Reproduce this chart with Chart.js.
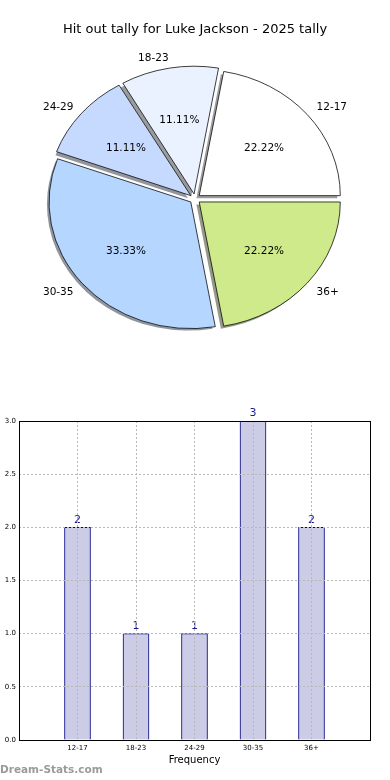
<!DOCTYPE html>
<html>
<head>
<meta charset="utf-8">
<script src="https://cdn.jsdelivr.net/npm/chart.js@4"></script>
<style>
    body { margin: 0; background: #fff; }
    #page { position: relative; width: 390px; height: 780px; overflow: hidden; }
    #pieBox { position: absolute; left: 0; top: 0; width: 390px; height: 350px; }
    #barBox { position: absolute; left: 0; top: 400px; width: 390px; height: 380px; }
    #mark { position: absolute; left: 0; top: 763px; font: bold 10.5px 'DejaVu Sans', sans-serif; color: #9a9a9a; }
</style>
</head>
<body>
<div id="page">
    <div id="pieBox"><canvas id="pieChart" width="390" height="350"></canvas></div>
    <div id="barBox"><canvas id="barChart" width="390" height="380"></canvas></div>
    <div id="mark">Dream-Stats.com</div>
</div>
<script>
const chartTitle = 'Hit out tally for Luke Jackson - 2025 tally';
const categories = ['12-17', '18-23', '24-29', '30-35', '36+'];
const counts = [2, 1, 1, 3, 2];
const sliceColors = ['#FFFFFF', '#EAF1FF', '#C6D9FF', '#B4D6FF', '#CFEA8B'];
const axisTitle = 'Frequency';

const FONT = "'DejaVu Sans', sans-serif";
const SQUASH = 126 / 141; // pie is drawn as an ellipse, like the original

const total = counts.reduce((a, b) => a + b, 0);
// matplotlib draws counter-clockwise from 3 o'clock, Chart.js goes clockwise, so reverse
const pieLabels = categories.slice().reverse();
const pieValues = counts.slice().reverse();
const pieColors = sliceColors.slice().reverse();

function squash(ctx, cx, cy) {
    ctx.translate(cx, cy);
    ctx.scale(1, SQUASH);
    ctx.translate(-cx, -cy);
}

function shadowOf(hex) {
    const n = parseInt(hex.slice(1), 16);
    const r = Math.round(((n >> 16) & 255) * 0.3);
    const g = Math.round(((n >> 8) & 255) * 0.3);
    const b = Math.round((n & 255) * 0.3);
    return `rgba(${r},${g},${b},0.55)`;
}

function wedgeCenter(arc) {
    const shift = (arc.options.offset || 0) / 4;
    const mid = (arc.startAngle + arc.endAngle) / 2;
    return { x: arc.x + Math.cos(mid) * shift, y: arc.y + Math.sin(mid) * shift, mid };
}

const pieStyle = {
    id: 'pieStyle',
    beforeDatasetsDraw(chart) {
        const ctx = chart.ctx;
        const arcs = chart.getDatasetMeta(0).data;
        // shadows go under every wedge
        arcs.forEach(arc => {
            const c = wedgeCenter(arc);
            ctx.save();
            ctx.translate(-2.8, 2.6);
            squash(ctx, arc.x, arc.y);
            ctx.beginPath();
            ctx.moveTo(c.x, c.y);
            ctx.arc(c.x, c.y, arc.outerRadius, arc.startAngle, arc.endAngle);
            ctx.closePath();
            ctx.fillStyle = shadowOf(arc.options.backgroundColor);
            ctx.fill();
            ctx.restore();
        });
        ctx.save();
        squash(ctx, arcs[0].x, arcs[0].y);
    },
    afterDatasetsDraw(chart) {
        const ctx = chart.ctx;
        ctx.restore();
        const arcs = chart.getDatasetMeta(0).data;
        ctx.save();
        ctx.fillStyle = '#000';
        ctx.font = `10.5px ${FONT}`;
        ctx.textBaseline = 'middle';
        arcs.forEach((arc, i) => {
            const c = wedgeCenter(arc);
            const R = arc.outerRadius;
            const at = d => ({
                x: c.x + Math.cos(c.mid) * R * d,
                y: arc.y + (c.y + Math.sin(c.mid) * R * d - arc.y) * SQUASH
            });
            const pct = at(0.6);
            ctx.textAlign = 'center';
            ctx.fillText((pieValues[i] / total * 100).toFixed(2) + '%', pct.x, pct.y + 1);
            const lab = at(1.1);
            ctx.textAlign = Math.cos(c.mid) > 0 ? 'left' : 'right';
            ctx.fillText(pieLabels[i], lab.x - 1.5 * Math.sign(Math.cos(c.mid)), lab.y + 1);
        });
        ctx.restore();
    }
};

new Chart(document.getElementById('pieChart'), {
    type: 'pie',
    data: {
        labels: pieLabels,
        datasets: [{
            data: pieValues,
            backgroundColor: pieColors,
            borderColor: '#000',
            borderWidth: 0.8,
            offset: 22,
            clip: false
        }]
    },
    options: {
        responsive: false,
        animation: false,
        events: [],
        rotation: 90,
        radius: 141,
        plugins: {
            legend: { display: false },
            tooltip: { enabled: false },
            title: {
                display: true,
                text: chartTitle,
                color: '#000',
                font: { family: FONT, size: 13, weight: 'normal', lineHeight: 1.2 },
                padding: { top: 22, bottom: 10 }
            }
        }
    },
    plugins: [pieStyle]
});

const barExtras = {
    id: 'barExtras',
    afterDatasetsDraw(chart) {
        const ctx = chart.ctx;
        ctx.save();
        ctx.fillStyle = '#1a1a8e';
        ctx.font = `11px ${FONT}`;
        ctx.textAlign = 'center';
        ctx.textBaseline = 'bottom';
        chart.getDatasetMeta(0).data.forEach((bar, i) => {
            ctx.fillText(String(counts[i]), bar.x, bar.y - 2);
        });
        ctx.restore();
    },
    afterDraw(chart) {
        // full black frame round the plot, matplotlib style
        const { left, top, right, bottom } = chart.chartArea;
        const ctx = chart.ctx;
        ctx.save();
        ctx.strokeStyle = '#000';
        ctx.lineWidth = 1;
        ctx.strokeRect(Math.round(left) + 0.5, Math.round(top) + 0.5, Math.round(right - left), Math.round(bottom - top));
        ctx.restore();
    }
};

const dotted = { display: false, dash: [2, 2] };

new Chart(document.getElementById('barChart'), {
    type: 'bar',
    data: {
        datasets: [{
            data: counts.map((v, i) => ({ x: i, y: v })),
            backgroundColor: 'rgb(204,204,230)',
            borderColor: '#000080',
            borderWidth: 1,
            barThickness: 26
        }]
    },
    options: {
        responsive: false,
        animation: false,
        events: [],
        layout: { padding: { top: 21, right: 20, left: 0, bottom: 0 } },
        plugins: { legend: { display: false }, tooltip: { enabled: false } },
        scales: {
            x: {
                type: 'linear',
                position: 'bottom',
                offset: false,
                min: -1,
                max: 5,
                afterBuildTicks: axis => { axis.ticks = categories.map((c, i) => ({ value: i })); },
                afterFit: axis => { axis.height = 40; },
                ticks: {
                    callback: v => categories[v],
                    color: '#000',
                    padding: 4,
                    maxRotation: 0,
                    font: { family: FONT, size: 7 }
                },
                grid: { color: '#b8b8b8', offset: false, drawTicks: false, z: 1 },
                border: dotted,
                title: {
                    display: true,
                    text: axisTitle,
                    color: '#000',
                    font: { family: FONT, size: 10 },
                    padding: { top: 0, bottom: 14 }
                }
            },
            y: {
                position: 'left',
                min: 0,
                max: 3,
                afterFit: axis => { axis.width = 19; },
                ticks: {
                    stepSize: 0.5,
                    callback: v => v.toFixed(1),
                    color: '#000',
                    padding: 3,
                    font: { family: FONT, size: 7 }
                },
                grid: { color: '#b8b8b8', drawTicks: false, z: 1 },
                border: dotted
            }
        }
    },
    plugins: [barExtras]
});
</script>
</body>
</html>
